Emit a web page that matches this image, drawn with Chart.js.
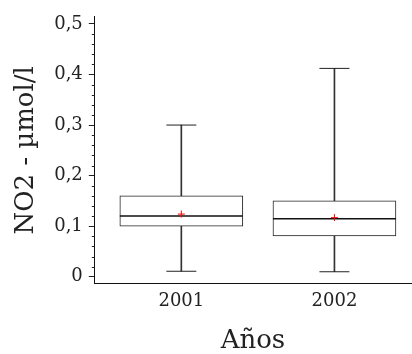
<!DOCTYPE html>
<html>
<head>
<meta charset="utf-8">
<script src="https://cdn.jsdelivr.net/npm/chart.js@4.4.0/dist/chart.umd.min.js"></script>
<style>
  html, body { margin: 0; padding: 0; background: #fff; }
  #wrap { width: 412px; height: 354px; }
</style>
</head>
<body>
<div id="wrap"><canvas id="chartNO2"></canvas></div>
<script>
// Boxplot NO2 par année
var annees = ['2001', '2002'];
var minimos = [0.011, 0.010];
var q1 = [0.100, 0.081];
var medianas = [0.120, 0.115];
var q3 = [0.160, 0.150];
var maximos = [0.300, 0.412];
var medias = [0.124, 0.117];
var yTicks = [0, 0.1, 0.2, 0.3, 0.4, 0.5];
var yMinorStep = 0.02;

function pos(i) { return i + 1; }

var cajas = annees.map(function (a, i) { return { x: pos(i), y: [q1[i], q3[i]] }; });
var bigotes = annees.map(function (a, i) { return { x: pos(i), y: [minimos[i], maximos[i]] }; });
var ptsMed = annees.map(function (a, i) { return { x: pos(i), y: medianas[i] }; });
var ptsMin = annees.map(function (a, i) { return { x: pos(i), y: minimos[i] }; });
var ptsMax = annees.map(function (a, i) { return { x: pos(i), y: maximos[i] }; });
var ptsMedia = annees.map(function (a, i) { return { x: pos(i), y: medias[i] }; });

// petits ticks mineurs sur l'axe y
var minorTicks = {
  id: 'minorTicks',
  afterDraw: function (chart) {
    var y = chart.scales.y;
    var ctx = chart.ctx;
    ctx.save();
    ctx.strokeStyle = '#222';
    ctx.lineWidth = 1;
    for (var k = 1; k * yMinorStep < 0.5; k++) {
      if (k % 5 === 0) continue;
      var py = Math.round(y.getPixelForValue(k * yMinorStep)) + 0.5;
      ctx.beginPath();
      ctx.moveTo(y.right - 3, py);
      ctx.lineTo(y.right, py);
      ctx.stroke();
    }
    ctx.restore();
  }
};

var serif = 'DejaVu Serif';

new Chart(document.getElementById('chartNO2').getContext('2d'), {
  type: 'bar',
  data: {
    datasets: [
      { type: 'line', data: ptsMedia, showLine: false, pointStyle: 'cross', pointRadius: 3.5,
        borderColor: '#ff0000', backgroundColor: '#ff0000', pointBorderWidth: 1, order: 0 },
      { type: 'line', data: ptsMed, showLine: false, pointStyle: 'line', pointRadius: 61.5,
        borderColor: '#111', pointBorderWidth: 1.5, order: 1 },
      { type: 'line', data: ptsMin, showLine: false, pointStyle: 'line', pointRadius: 15,
        borderColor: '#222', pointBorderWidth: 1, order: 1 },
      { type: 'line', data: ptsMax, showLine: false, pointStyle: 'line', pointRadius: 15,
        borderColor: '#222', pointBorderWidth: 1, order: 1 },
      { data: cajas, grouped: false, barThickness: 123, backgroundColor: '#fff',
        borderColor: '#222', borderWidth: 1, borderSkipped: false, order: 2 },
      { data: bigotes, grouped: false, barThickness: 1, backgroundColor: '#333',
        borderWidth: 0, order: 3 }
    ]
  },
  options: {
    responsive: true,
    maintainAspectRatio: false,
    animation: false,
    layout: { autoPadding: false, padding: { top: 15, right: 1, left: 11, bottom: 0 } },
    plugins: { legend: { display: false }, tooltip: { enabled: false } },
    scales: {
      x: {
        type: 'linear',
        offset: false,
        min: 0.435,
        max: 2.5,
        afterBuildTicks: function (s) { s.ticks = annees.map(function (a, i) { return { value: pos(i) }; }); },
        ticks: {
          callback: function (v) { return annees[v - 1]; },
          font: { family: serif, size: 18 }, color: '#222', padding: 7, maxRotation: 0
        },
        grid: { display: true, drawOnChartArea: false, drawTicks: false },
        border: { display: true, color: '#111', width: 1 },
        title: { display: true, text: 'Años', font: { family: serif, size: 26, lineHeight: 1.0 }, color: '#222',
          padding: { top: 8.5, bottom: 0 } }
      },
      y: {
        min: -0.014,
        max: 0.514,
        afterBuildTicks: function (s) { s.ticks = yTicks.map(function (v) { return { value: v }; }); },
        ticks: {
          callback: function (v) { return String(+v.toFixed(1)).replace('.', ','); },
          font: { family: serif, size: 18 }, color: '#222', padding: 6
        },
        grid: { display: true, drawOnChartArea: false, drawTicks: true, tickLength: 6, color: '#222' },
        border: { display: true, color: '#111', width: 1 },
        title: { display: true, text: 'NO2 - µmol/l', font: { family: serif, size: 26 }, color: '#222',
          padding: { top: 0, bottom: 6 } }
      }
    }
  },
  plugins: [minorTicks]
});
</script>
</body>
</html>
